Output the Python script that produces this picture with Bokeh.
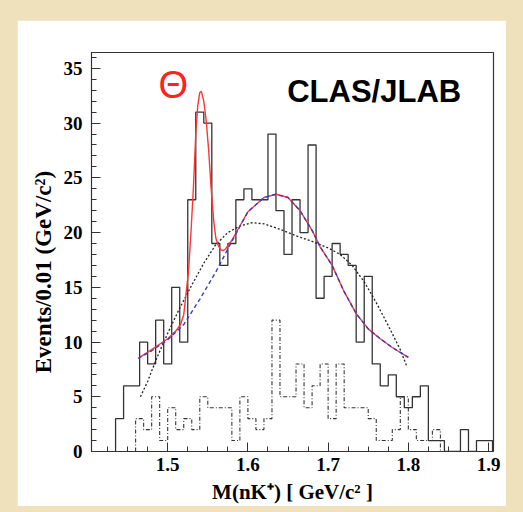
import numpy as np
from bokeh.plotting import figure
from bokeh.models import Range1d, FixedTicker, Label
from bokeh.layouts import column
from bokeh.embed import file_html
from bokeh.resources import INLINE

# ---------------- data ----------------
bin_width = 0.01
solid_start = 1.435
solid_counts = [3, 6, 6, 10, 8, 12, 8, 15, 10, 23, 31, 30, 19, 17, 19, 23, 24, 23, 23, 29,
                22, 18, 23, 20, 28, 14, 16, 19, 18, 17, 10, 16, 8, 6, 7, 5, 4, 5, 6, 1,
                1, 0, 0, 2, 0, 1, 1]
dashed_start = 1.46
dashed_counts = [3, 2, 5, 1, 4, 2, 3, 2, 5, 4, 4, 4, 1, 5, 3, 2, 3, 12, 5, 5,
                 8, 4, 6, 8, 3, 8, 4, 4, 4, 3, 1, 1, 2, 5, 2, 1, 1, 2]

# background fit (blue dashed)
bg_x = [1.463, 1.48, 1.50, 1.52, 1.54, 1.56, 1.58, 1.60, 1.62, 1.635, 1.65, 1.665,
        1.68, 1.69, 1.705, 1.72, 1.735, 1.75, 1.765, 1.78, 1.80]
bg_y = [8.5, 9.2, 10.2, 11.6, 13.9, 16.4, 19.2, 21.9, 23.2, 23.5, 23.2, 22.0,
        20.2, 18.7, 17.0, 14.6, 12.6, 11.2, 10.3, 9.5, 8.6]

# full fit: peak + background (red)
fit_x = [1.465, 1.48, 1.50, 1.51, 1.516, 1.52, 1.523, 1.526, 1.529, 1.532, 1.535,
         1.5375, 1.54, 1.542, 1.545, 1.548, 1.551, 1.554, 1.5575, 1.560, 1.563,
         1.566, 1.569, 1.572, 1.576, 1.58, 1.60, 1.62, 1.635, 1.65, 1.665, 1.68,
         1.69, 1.705, 1.72, 1.735, 1.75, 1.765, 1.78, 1.80]
fit_y = [8.6, 9.3, 10.3, 11.0, 11.6, 12.5, 14.5, 16.5, 20.0, 24.0, 29.0,
         31.6, 32.8, 32.9, 32.0, 30.2, 27.6, 24.2, 21.0, 19.5, 18.8,
         18.45, 18.35, 18.5, 18.9, 19.3, 21.9, 23.2, 23.5, 23.2, 22.0, 20.2,
         18.7, 17.0, 14.6, 12.6, 11.2, 10.3, 9.5, 8.6]

# alternative background (black dotted)
alt_x = [1.466, 1.475, 1.485, 1.50, 1.515, 1.53, 1.545, 1.56, 1.575, 1.59, 1.605,
         1.62, 1.64, 1.66, 1.68, 1.70, 1.715, 1.73, 1.745, 1.76, 1.775, 1.79, 1.798]
alt_y = [5.0, 6.4, 8.3, 10.8, 13.1, 15.2, 17.2, 18.9, 20.0, 20.6, 20.9,
         20.8, 20.3, 19.7, 19.2, 18.6, 18.0, 17.0, 15.5, 13.6, 11.5, 9.3, 7.8]

x_major = [1.5, 1.6, 1.7, 1.8, 1.9]
y_major = [0, 5, 10, 15, 20, 25, 30, 35]


def step_path(start, width, counts):
    xs, ys = [start], [0]
    for i, c in enumerate(counts):
        lo = start + i * width
        hi = lo + width
        xs += [lo, hi]
        ys += [c, c]
    xs.append(start + len(counts) * width)
    ys.append(0)
    return xs, ys


SERIF = "Liberation Serif"
SANS = "Liberation Sans"

p = figure(width=489, height=486, output_backend="svg", toolbar_location=None,
           x_range=Range1d(1.405, 1.9062), y_range=Range1d(0, 36.45),
           min_border_left=74, min_border_right=13, min_border_top=32,
           min_border_bottom=52, background_fill_color="white",
           border_fill_color="white", margin=(20, 0, 0, 17))
p.outline_line_color = "#333333"
p.outline_line_width = 1.2
p.xgrid.visible = False
p.ygrid.visible = False

# histograms
sx, sy = step_path(solid_start, bin_width, solid_counts)
p.line(sx, sy, line_color="#333333", line_width=1.3)
dx, dy = step_path(dashed_start, bin_width, dashed_counts)
p.line(dx, dy, line_color="#333333", line_width=1.1, line_dash="4 2 1 2")

# fits
p.line(alt_x, alt_y, line_color="#222222", line_width=1.3, line_dash="2 2")
p.line(fit_x, fit_y, line_color="#ff3535", line_width=1.4)
p.line(bg_x, bg_y, line_color="#3a3ac0", line_width=1.4, line_dash="4 3")

# axes
for ax in (p.xaxis[0], p.yaxis[0]):
    ax.axis_line_color = "#333333"
    ax.major_tick_line_color = "#333333"
    ax.minor_tick_line_color = "#333333"
    ax.major_tick_in = 9
    ax.major_tick_out = 0
    ax.minor_tick_in = 5
    ax.minor_tick_out = 0
    ax.major_label_text_font = SERIF
    ax.major_label_text_font_style = "bold"
    ax.major_label_text_font_size = "19px"
    ax.major_label_text_color = "black"
    ax.axis_label_text_font = SERIF
    ax.axis_label_text_font_style = "bold"
    ax.axis_label_text_color = "black"

p.xaxis.axis_label_text_font_size = "21px"
p.yaxis.axis_label_text_font_size = "23px"
p.xaxis.ticker = FixedTicker(ticks=x_major,
                             minor_ticks=list(np.round(np.arange(1.425, 1.91, 0.025), 3)))
p.yaxis.ticker = FixedTicker(ticks=y_major, minor_ticks=list(range(0, 37)))
p.xaxis.major_label_standoff = 6
p.yaxis.major_label_standoff = 9
p.xaxis.axis_label = "M(nK⁺) [ GeV/c² ]"
# trailing no-break spaces push the title a little below the axis centre, as in the original
p.yaxis.axis_label = "Events/0.01 (GeV/c²)" + "\u00a0" * 7
p.xaxis.axis_label_standoff = 6
p.yaxis.axis_label_standoff = 5

p.add_layout(Label(x=1.507, y=33.5, text="Θ", text_color="#ff2020",
                   text_font=SANS, text_font_size="38px", text_align="center",
                   text_baseline="alphabetic"))
p.add_layout(Label(x=1.649, y=32.9, text="CLAS/JLAB", text_color="black",
                   text_font=SANS, text_font_style="bold", text_font_size="31px",
                   text_align="left", text_baseline="alphabetic"))

page = column(p, width=523, height=512, styles={"background-color": "#efe1bb"})

open("out.html", "w").write(file_html(page, INLINE))
